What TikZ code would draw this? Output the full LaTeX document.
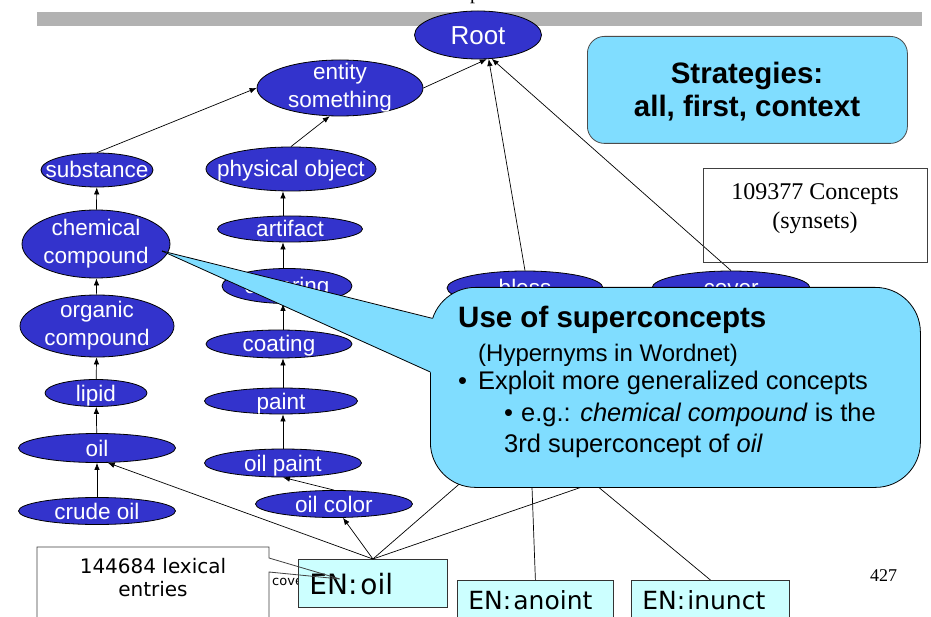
\documentclass[tikz,border=0pt]{standalone}
\usepackage{fontspec}
\newfontfamily\arialf{Liberation Sans}
\newfontfamily\timesf{Liberation Serif}
\newfontfamily\verdf{DejaVu Sans}
\usetikzlibrary{shapes.geometric,arrows.meta}
\definecolor{ellblue}{RGB}{51,51,204}
\definecolor{callblue}{RGB}{128,221,255}
\definecolor{encyan}{RGB}{204,255,255}
\definecolor{bargray}{RGB}{178,178,178}
\begin{document}
\begin{tikzpicture}[x=1pt,y=-1pt,
  ell/.style={ellipse, draw=black, line width=0.8pt, fill=ellblue, inner sep=0pt},
  etx/.style={text=white, inner sep=0pt, font=\arialf\fontsize{22.5}{28}\selectfont, text height=16pt, text depth=0pt},
  etxtwo/.style={text=white, inner sep=0pt, font=\arialf\fontsize{22.5}{28}\selectfont, align=center},
  arr/.style={-{Latex[length=7pt,width=5.5pt]}, line width=0.7pt},
  ln/.style={line width=0.7pt},
  enbox/.style={draw=black!80, line width=0.8pt, fill=encyan, inner xsep=11pt, align=left, anchor=north west},
  cbody/.style={font=\arialf\fontsize{25.5}{30}\selectfont, inner sep=0pt, anchor=base west},
  wbox/.style={draw=black!75, line width=0.8pt},
]
\useasboundingbox (0,0) rectangle (931,617);
\fill[white] (0,0) rectangle (931,617);
% top bar and cut title
\node[font=\timesf\fontsize{20}{24}\selectfont, anchor=base west, inner sep=0pt] (ptop) at (470,0) {p};
\fill[bargray] (37,12) rectangle (922,26);

% ellipses
\node[ell, minimum width=127, minimum height=48, label={[etx, font=\arialf\fontsize{26}{30}\selectfont, text height=18.6pt]center:Root}] (Root) at (478,35) {};
\node[ell, minimum width=166, minimum height=56, label={[etxtwo]center:entity\\something}] (entity) at (340,88) {};
\node[ell, minimum width=112, minimum height=34, label={[etx]center:substance}] (substance) at (97,170) {};
\node[ell, minimum width=170, minimum height=44, label={[etx]center:physical object}] (physical) at (291,169) {};
\node[ell, minimum width=148, minimum height=68, label={[etxtwo]center:chemical\\compound}] (chem) at (96,244) {};
\node[ell, minimum width=145, minimum height=26, label={[etx]center:artifact}] (artifact) at (290,229) {};
\node[ell, minimum width=130, minimum height=35, label={[etx]center:covering}] (covering) at (287,286) {};
\node[ell, minimum width=154, minimum height=62, label={[etxtwo]center:organic\\compound}] (organic) at (97,326) {};
\node[ell, minimum width=146, minimum height=28, label={[etx]center:coating}] (coating) at (279,344) {};
\node[ell, minimum width=102, minimum height=27, label={[etx]center:lipid}] (lipid) at (96,393) {};
\node[ell, minimum width=153, minimum height=26, label={[etx]center:paint}] (paint) at (281,401) {};
\node[ell, minimum width=157, minimum height=29, label={[etx]center:oil}] (oil) at (97,448) {};
\node[ell, minimum width=157, minimum height=28, label={[etx]center:oil paint}] (oilpaint) at (283,463) {};
\node[ell, minimum width=157, minimum height=27, label={[etx]center:oil color}] (oilcolor) at (334,504) {};
\node[ell, minimum width=157, minimum height=27, label={[etx]center:crude oil}] (crude) at (97,511) {};
\node[ell, minimum width=156, minimum height=34, label={[etx]center:bless}] (bless) at (525,288) {};
\node[ell, minimum width=158, minimum height=34, label={[etx]center:cover}] (cover) at (731,288) {};

% footer fragment and EN boxes
\node[font=\verdf\fontsize{13}{15}\selectfont, anchor=base west, inner sep=0pt] (foot) at (272,585) {cove};
\node[enbox, font=\verdf\fontsize{28}{32}\selectfont, text width=127pt, inner ysep=0pt, minimum height=48pt, text height=22pt, text depth=0pt] (enoil) at (298,559) {EN:\kern3pt oil};
\node[enbox, font=\verdf\fontsize{25}{30}\selectfont, text width=134pt, inner ysep=12pt, text height=17pt, text depth=30pt] (enanoint) at (457,580) {EN:\kern2pt anoint};
\node[enbox, font=\verdf\fontsize{25}{30}\selectfont, text width=136pt, inner ysep=12pt, text height=17pt, text depth=30pt] (eninunct) at (631,580) {EN:\kern2pt inunct};

% helper coordinates
\coordinate (colM) at (283,0);
\coordinate (h1) at (510,440);
\coordinate (h2) at (640,467);
\coordinate (h3) at (531,460);
\coordinate (h4) at (573,466);

% connectors
\draw[arr] (entity.east) -- (Root.-70);
\draw[arr] (bless.north) -- (Root.-66);
\draw[arr] (cover.north) -- (Root.-60);
\draw[arr] (substance.north) -- (entity.west);
\draw[arr] (physical.north) -- (entity.-110);
\draw[arr] (chem) -- (substance);
\draw[arr] (organic) -- (chem);
\draw[arr] (lipid) -- (organic);
\draw[arr] (oil) -- (lipid);
\draw[arr] (crude) -- (oil);
\draw[arr] (artifact.north -| colM) -- (physical.south -| colM);
\draw[arr] (covering.north -| colM) -- (artifact.south -| colM);
\draw[arr] (coating.north -| colM) -- (covering.south -| colM);
\draw[arr] (paint.north -| colM) -- (coating.south -| colM);
\draw[arr] (oilpaint.north -| colM) -- (paint.south -| colM);
\draw[arr] (oilcolor.north) -- (oilpaint.south);
\draw[arr] (enoil.north) -- (oil.-54);
\draw[arr] (enoil.north) -- (oilcolor.-57);
\draw[ln] (enoil.north) -- (h1);
\draw[ln] (enoil.north) -- (h2);
\draw[ln] (enanoint.north) -- (h3);
\draw[ln] (eninunct.north) -- (h4);

% strategies box
\node[draw=black!70, line width=0.8pt, fill=callblue, rounded corners=17pt, minimum width=320pt, minimum height=107pt, anchor=north west] (strat) at (587,36) {};
\node[font=\arialf\bfseries\fontsize{29.5}{34}\selectfont, anchor=base, inner sep=0pt] (strat1) at (747,84) {Strategies:};
\node[font=\arialf\bfseries\fontsize{29.5}{34}\selectfont, anchor=base, inner sep=0pt] (strat2) at (747,117) {all, first, context};

% concepts box
\node[wbox, minimum width=224pt, minimum height=94pt, anchor=north west] (concepts) at (703,168) {};
\node[font=\timesf\fontsize{24}{29}\selectfont, anchor=base, inner sep=0pt] (conc1) at (815,200) {109377 Concepts};
\node[font=\timesf\fontsize{24}{29}\selectfont, anchor=base, inner sep=0pt] (conc2) at (815,229) {(synsets)};

% big callout
\node[draw=black, line width=0.8pt, fill=callblue, rounded corners=45pt, minimum width=490pt, minimum height=200pt, anchor=north west] (callout) at (430,287) {};
\coordinate (tip) at (162,251);
\fill[callblue] (tip) -- (437,319.75) -- (437,375.2) -- cycle;
\draw[line width=0.8pt] (tip) -- (432.2,318.3);
\draw[line width=0.8pt] (tip) -- (430.3,372);
\node[font=\arialf\bfseries\fontsize{29.5}{34}\selectfont, anchor=base west, inner sep=0pt] (ct1) at (458,327) {Use of superconcepts};
\node[cbody, font=\arialf\fontsize{24}{28}\selectfont] (ct2) at (478,361) {(Hypernyms in Wordnet)};
\node[cbody] (ct3) at (458,389) {\makebox[20pt][l]{•}Exploit more generalized concepts};
\node[cbody] (ct4) at (504,421) {\makebox[17pt][l]{•}e.g.: \textit{chemical compound} is the};
\node[cbody] (ct5) at (504,452) {3rd superconcept of \textit{oil}};

% lexical entries box (callout to EN:oil)
\fill[white] (37,547) rectangle (269,640);
\draw[line width=0.8pt, draw=black!75] (37,640) -- (37,547) -- (269,547) -- (269,558) -- (340,579) -- (269,572) -- (269,640);
\node[font=\verdf\fontsize{20}{23}\selectfont, anchor=base, inner sep=0pt] (lex1) at (153,573) {144684 lexical};
\node[font=\verdf\fontsize{20}{23}\selectfont, anchor=base, inner sep=0pt] (lex2) at (153,596) {entries};

% page number
\node[font=\timesf\fontsize{18}{22}\selectfont, anchor=base west, inner sep=0pt] (pnum) at (870,581) {427};
\end{tikzpicture}
\end{document}
